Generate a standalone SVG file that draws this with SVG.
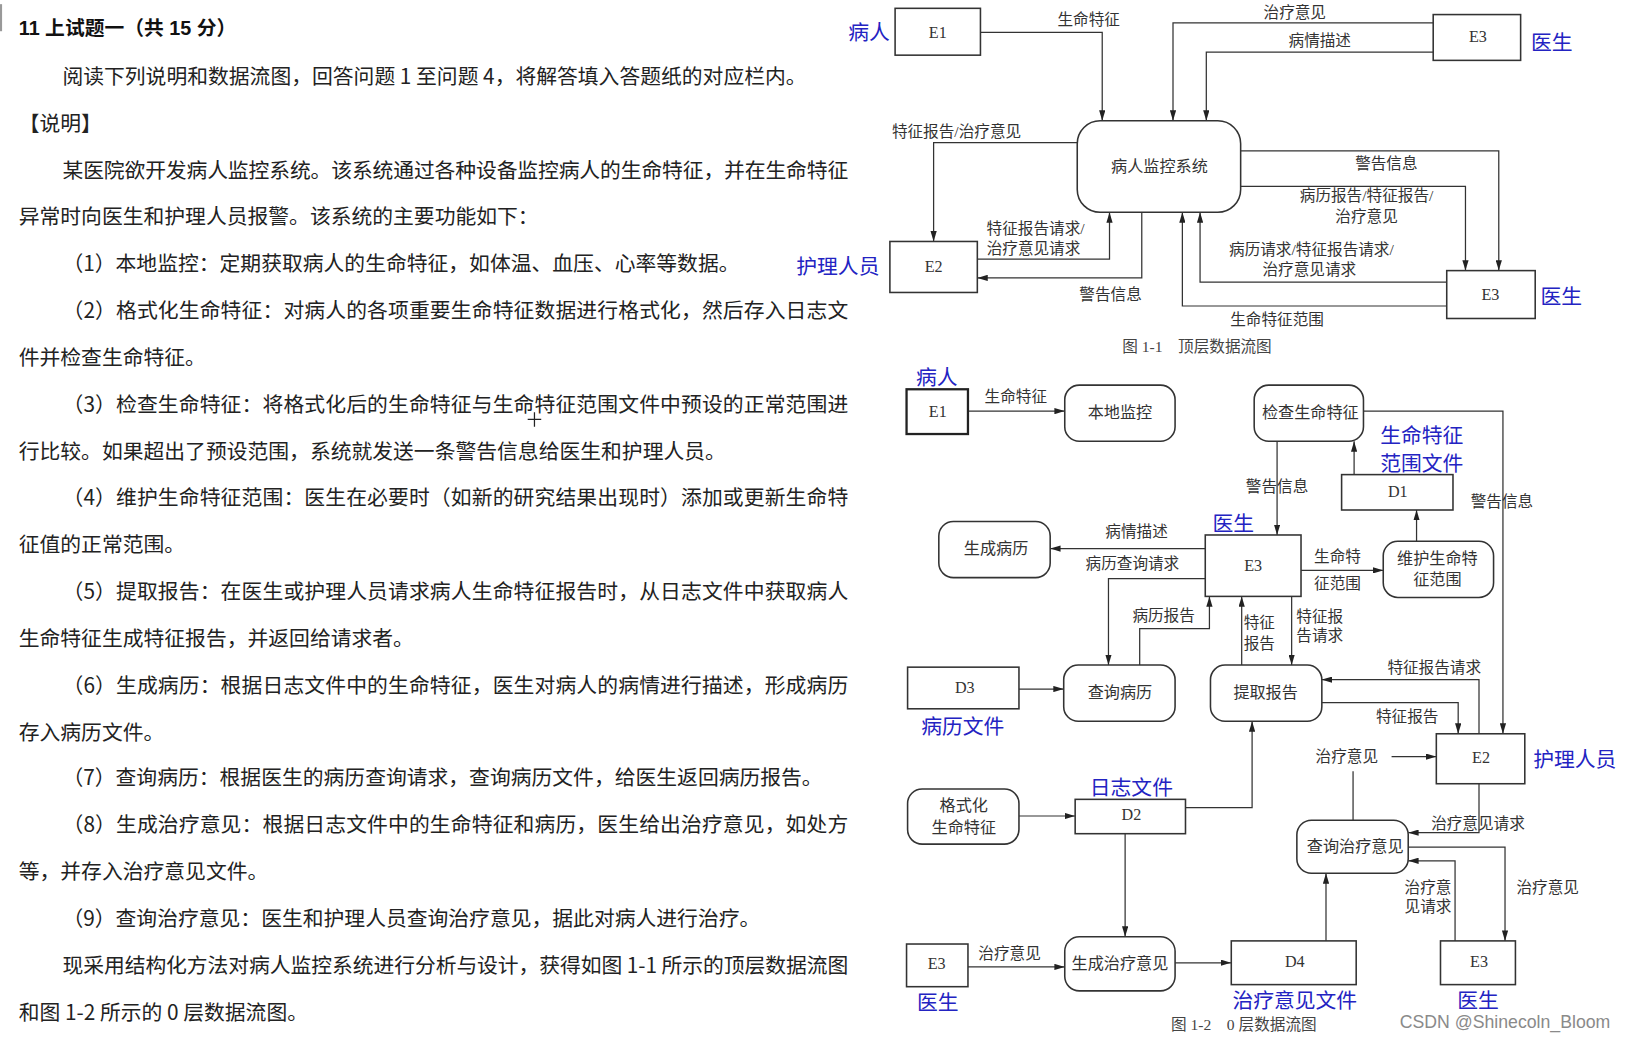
<svg xmlns="http://www.w3.org/2000/svg" width="1632" height="1040" viewBox="0 0 1632 1040">
<defs>
<marker id="ah" viewBox="0 0 10 6" refX="10" refY="3" markerWidth="10" markerHeight="6" orient="auto" markerUnits="userSpaceOnUse"><path d="M0,0 L10,3 L0,6 z" fill="#222"/></marker>
<style>
.t{font-family:"Noto Sans CJK SC","Liberation Sans",sans-serif;font-size:20px;fill:#222;dominant-baseline:central}
.h{font-family:"Liberation Sans","Noto Sans CJK SC",sans-serif;font-size:19px;font-weight:bold;fill:#111;dominant-baseline:central}
.box{fill:#fff;stroke:#333;stroke-width:1.5}
.thick{fill:#fff;stroke:#222;stroke-width:2.2}
.proc{fill:#fff;stroke:#333;stroke-width:1.5}
.lbl{font-family:"Liberation Serif","Noto Sans CJK SC",serif;font-size:15px;fill:#333;text-anchor:middle;dominant-baseline:central}
.nt{font-family:"Liberation Serif","Noto Sans CJK SC",serif;font-size:15.5px;fill:#333;text-anchor:middle;dominant-baseline:central}
.blue{font-family:"Noto Sans CJK SC",sans-serif;font-size:20px;fill:#2323c2;text-anchor:middle;dominant-baseline:central}
.c{fill:none;stroke:#333;stroke-width:1.2;marker-end:url(#ah)}
.cn{fill:none;stroke:#333;stroke-width:1.2}
.cap{font-family:"Liberation Serif","Noto Sans CJK SC",serif;font-size:15px;fill:#444;text-anchor:middle;dominant-baseline:central}
</style>
</defs>
<rect width="1632" height="1040" fill="#fff"/>
<g transform="scale(1.040816)">
<!-- left text -->
<g id="text">
<rect x="0" y="4" width="2" height="26" fill="#999"/>
<text class="h" x="18" y="27">11 上试题一（共 15 分）</text>
<text class="t" x="60" y="72">阅读下列说明和数据流图，回答问题 1 至问题 4，将解答填入答题纸的对应栏内。</text>
<text class="t" x="18" y="117">【说明】</text>
<text class="t" x="60" y="162" textLength="755">某医院欲开发病人监控系统。该系统通过各种设备监控病人的生命特征，并在生命特征</text>
<text class="t" x="18" y="207">异常时向医生和护理人员报警。该系统的主要功能如下：</text>
<text class="t" x="60" y="252">（1）本地监控：定期获取病人的生命特征，如体温、血压、心率等数据。</text>
<text class="t" x="60" y="297" textLength="755">（2）格式化生命特征：对病人的各项重要生命特征数据进行格式化，然后存入日志文</text>
<text class="t" x="18" y="342">件并检查生命特征。</text>
<text class="t" x="60" y="387" textLength="755">（3）检查生命特征：将格式化后的生命特征与生命特征范围文件中预设的正常范围进</text>
<text class="t" x="18" y="432">行比较。如果超出了预设范围，系统就发送一条警告信息给医生和护理人员。</text>
<text class="t" x="60" y="477" textLength="755">（4）维护生命特征范围：医生在必要时（如新的研究结果出现时）添加或更新生命特</text>
<text class="t" x="18" y="522">征值的正常范围。</text>
<text class="t" x="60" y="567" textLength="755">（5）提取报告：在医生或护理人员请求病人生命特征报告时，从日志文件中获取病人</text>
<text class="t" x="18" y="612">生命特征生成特征报告，并返回给请求者。</text>
<text class="t" x="60" y="657" textLength="755">（6）生成病历：根据日志文件中的生命特征，医生对病人的病情进行描述，形成病历</text>
<text class="t" x="18" y="702">存入病历文件。</text>
<text class="t" x="60" y="746">（7）查询病历：根据医生的病历查询请求，查询病历文件，给医生返回病历报告。</text>
<text class="t" x="60" y="791" textLength="755">（8）生成治疗意见：根据日志文件中的生命特征和病历，医生给出治疗意见，如处方</text>
<text class="t" x="18" y="836">等，并存入治疗意见文件。</text>
<text class="t" x="60" y="881">（9）查询治疗意见：医生和护理人员查询治疗意见，据此对病人进行治疗。</text>
<text class="t" x="60" y="926" textLength="755">现采用结构化方法对病人监控系统进行分析与设计，获得如图 1-1 所示的顶层数据流图</text>
<text class="t" x="18" y="971">和图 1-2 所示的 0 层数据流图。</text>
<path d="M507,403 H520 M513.5,396 V410" stroke="#222" stroke-width="1.2"/>
</g>

<!-- Figure 1-1 connectors -->
<g id="connectors-1-1">
<path class="c" d="M942,31 H1059 V116"/>
<path class="c" d="M1377,22 H1127 V116"/>
<path class="c" d="M1377,50 H1159 V116"/>
<path class="c" d="M1035,137 H897 V232"/>
<path class="c" d="M1192,145 H1440 V260"/>
<path class="c" d="M1192,179 H1408 V260"/>
<path class="c" d="M939,249 H1066 V204"/>
<path class="c" d="M1097,204 V267 H939" stroke-width="1.8"/>
<path class="c" d="M1390,271 H1153 V204"/>
<path class="c" d="M1390,294 H1136 V204"/>
<text class="lbl" x="1046" y="19">生命特征</text>
<text class="lbl" x="1244" y="12">治疗意见</text>
<text class="lbl" x="1268" y="39">病情描述</text>
<text class="lbl" x="919" y="126">特征报告/治疗意见</text>
<text class="lbl" x="1332" y="157">警告信息</text>
<text class="lbl" x="1313" y="188">病历报告/特征报告/</text>
<text class="lbl" x="1313" y="208">治疗意见</text>
<text class="lbl" x="995" y="220">特征报告请求/</text>
<text class="lbl" x="993" y="239">治疗意见请求</text>
<text class="lbl" x="1067" y="283">警告信息</text>
<text class="lbl" x="1260" y="240">病历请求/特征报告请求/</text>
<text class="lbl" x="1258" y="259">治疗意见请求</text>
<text class="lbl" x="1227" y="307">生命特征范围</text>
</g>

<!-- Figure 1-1 nodes -->
<g id="f1-E1"><rect class="box" x="860" y="8" width="82" height="45"/><text class="nt" x="901" y="31">E1</text><text class="blue" x="835" y="30">病人</text></g>
<g id="f1-E3a"><rect class="box" x="1377" y="14" width="84" height="44"/><text class="nt" x="1420" y="35">E3</text><text class="blue" x="1491" y="39">医生</text></g>
<g id="f1-P"><rect class="proc" x="1035" y="116" width="157" height="88" rx="22"/><text class="nt" x="1114" y="160">病人监控系统</text></g>
<g id="f1-E2"><rect class="box" x="855" y="232" width="84" height="49"/><text class="nt" x="897" y="256">E2</text><text class="blue" x="805" y="255">护理人员</text></g>
<g id="f1-E3b"><rect class="box" x="1390" y="260" width="85" height="46"/><text class="nt" x="1432" y="283">E3</text><text class="blue" x="1500" y="283">医生</text></g>
<text class="cap" x="1150" y="333">图 1-1　顶层数据流图</text>

<!-- Figure 1-2 connectors -->
<g id="connectors-1-2">
<path class="c" d="M930,395 H1023"/>
<path class="c" d="M1301,456 V424"/>
<path class="c" d="M1227,424 V514"/>
<path class="c" d="M1310,395 H1444 V705"/>
<path class="c" d="M1158,527 H1009"/>
<path class="c" d="M1158,556 H1065 V639"/>
<path class="c" d="M1095,639 V604 H1162 V573"/>
<path class="c" d="M1193,639 V573"/>
<path class="c" d="M1241,573 V639"/>
<path class="c" d="M1250,548 H1329"/>
<path class="c" d="M1361,520 V490"/>
<path class="c" d="M979,662 H1022" stroke-width="1.6"/>
<path class="c" d="M1421,705 V653 H1270"/>
<path class="c" d="M1270,675 H1401 V705"/>
<path class="c" d="M1139,776 H1203 V693"/>
<path class="c" d="M979,784 H1033" stroke-width="1.6"/>
<path class="c" d="M1081,801 V900"/>
<path class="c" d="M930,929 H1023" stroke-width="1.6"/>
<path class="c" d="M1129,925 H1183" stroke-width="1.6"/>
<path class="c" d="M1274,904 V839"/>
<path class="cn" d="M1300,788 V741"/>
<path class="c" d="M1337,727 H1380" stroke-width="1.6"/>
<path class="c" d="M1421,753 V800 H1353"/>
<path class="c" d="M1353,814 H1446 V904"/>
<path class="c" d="M1398,904 V827 H1353"/>
<text class="lbl" x="976" y="381">生命特征</text>
<text class="lbl" x="1227" y="467">警告信息</text>
<text class="lbl" x="1443" y="482">警告信息</text>
<text class="lbl" x="1092" y="511">病情描述</text>
<text class="lbl" x="1088" y="541">病历查询请求</text>
<text class="lbl" x="1118" y="591">病历报告</text>
<text class="lbl" x="1210" y="598">特征</text>
<text class="lbl" x="1210" y="618">报告</text>
<text class="lbl" x="1268" y="592">特征报</text>
<text class="lbl" x="1268" y="611">告请求</text>
<text class="lbl" x="1285" y="535">生命特</text>
<text class="lbl" x="1285" y="561">征范围</text>
<text class="lbl" x="1378" y="641">特征报告请求</text>
<text class="lbl" x="1352" y="688">特征报告</text>
<text class="lbl" x="1294" y="727">治疗意见</text>
<text class="lbl" x="1420" y="791">治疗意见请求</text>
<text class="lbl" x="1487" y="853">治疗意见</text>
<text class="lbl" x="1372" y="853">治疗意</text>
<text class="lbl" x="1372" y="871">见请求</text>
<text class="lbl" x="970" y="916">治疗意见</text>
</g>

<!-- Figure 1-2 nodes -->
<g id="f2-E1"><rect class="thick" x="871" y="374" width="59" height="43"/><text class="nt" x="901" y="395">E1</text><text class="blue" x="900" y="361">病人</text></g>
<g id="f2-local"><rect class="proc" x="1023" y="370" width="106" height="54" rx="14"/><text class="nt" x="1076" y="396">本地监控</text></g>
<g id="f2-check"><rect class="proc" x="1205" y="370" width="105" height="54" rx="14"/><text class="nt" x="1259" y="396">检查生命特征</text></g>
<g id="f2-D1"><rect class="box" x="1289" y="456" width="107" height="34"/><text class="nt" x="1343" y="472">D1</text><text class="blue" x="1366" y="417" font-size="19">生命特征</text><text class="blue" x="1366" y="444" font-size="19">范围文件</text></g>
<g id="f2-E3c"><rect class="box" x="1158" y="514" width="92" height="59"/><text class="nt" x="1204" y="543">E3</text><text class="blue" x="1185" y="502">医生</text></g>
<g id="f2-genrec"><rect class="proc" x="902" y="501" width="107" height="54" rx="14"/><text class="nt" x="957" y="527">生成病历</text></g>
<g id="f2-maint"><rect class="proc" x="1329" y="520" width="106" height="54" rx="14"/><text class="nt" x="1381" y="537">维护生命特</text><text class="nt" x="1381" y="557">征范围</text></g>
<g id="f2-D3"><rect class="box" x="872" y="641" width="107" height="40"/><text class="nt" x="927" y="661">D3</text><text class="blue" x="925" y="697">病历文件</text></g>
<g id="f2-queryrec"><rect class="proc" x="1022" y="639" width="107" height="54" rx="14"/><text class="nt" x="1076" y="665">查询病历</text></g>
<g id="f2-report"><rect class="proc" x="1163" y="639" width="107" height="54" rx="14"/><text class="nt" x="1216" y="665">提取报告</text></g>
<g id="f2-E2"><rect class="box" x="1380" y="705" width="85" height="48"/><text class="nt" x="1423" y="728">E2</text><text class="blue" x="1513" y="728">护理人员</text></g>
<g id="f2-format"><rect class="proc" x="872" y="758" width="107" height="53" rx="14"/><text class="nt" x="926" y="774">格式化</text><text class="nt" x="926" y="795">生命特征</text></g>
<g id="f2-D2"><rect class="box" x="1033" y="768" width="106" height="33"/><text class="nt" x="1087" y="783">D2</text><text class="blue" x="1087" y="755">日志文件</text></g>
<g id="f2-querytreat"><rect class="proc" x="1246" y="788" width="107" height="51" rx="14"/><text class="nt" x="1302" y="813">查询治疗意见</text></g>
<g id="f2-E3d"><rect class="box" x="871" y="907" width="59" height="41"/><text class="nt" x="900" y="926">E3</text><text class="blue" x="901" y="962">医生</text></g>
<g id="f2-gentreat"><rect class="proc" x="1023" y="900" width="106" height="52" rx="14"/><text class="nt" x="1076" y="926">生成治疗意见</text></g>
<g id="f2-D4"><rect class="box" x="1183" y="904" width="120" height="42"/><text class="nt" x="1244" y="924">D4</text><text class="blue" x="1244" y="960">治疗意见文件</text></g>
<g id="f2-E3e"><rect class="box" x="1384" y="904" width="72" height="42"/><text class="nt" x="1421" y="924">E3</text><text class="blue" x="1420" y="960">医生</text></g>
<text class="cap" x="1195" y="984">图 1-2　0 层数据流图</text>
<text x="1446" y="982" font-family="'Liberation Sans',sans-serif" font-size="17" fill="#8a8a8a" text-anchor="middle" dominant-baseline="central">CSDN @Shinecoln_Bloom</text>
</g>
</svg>
